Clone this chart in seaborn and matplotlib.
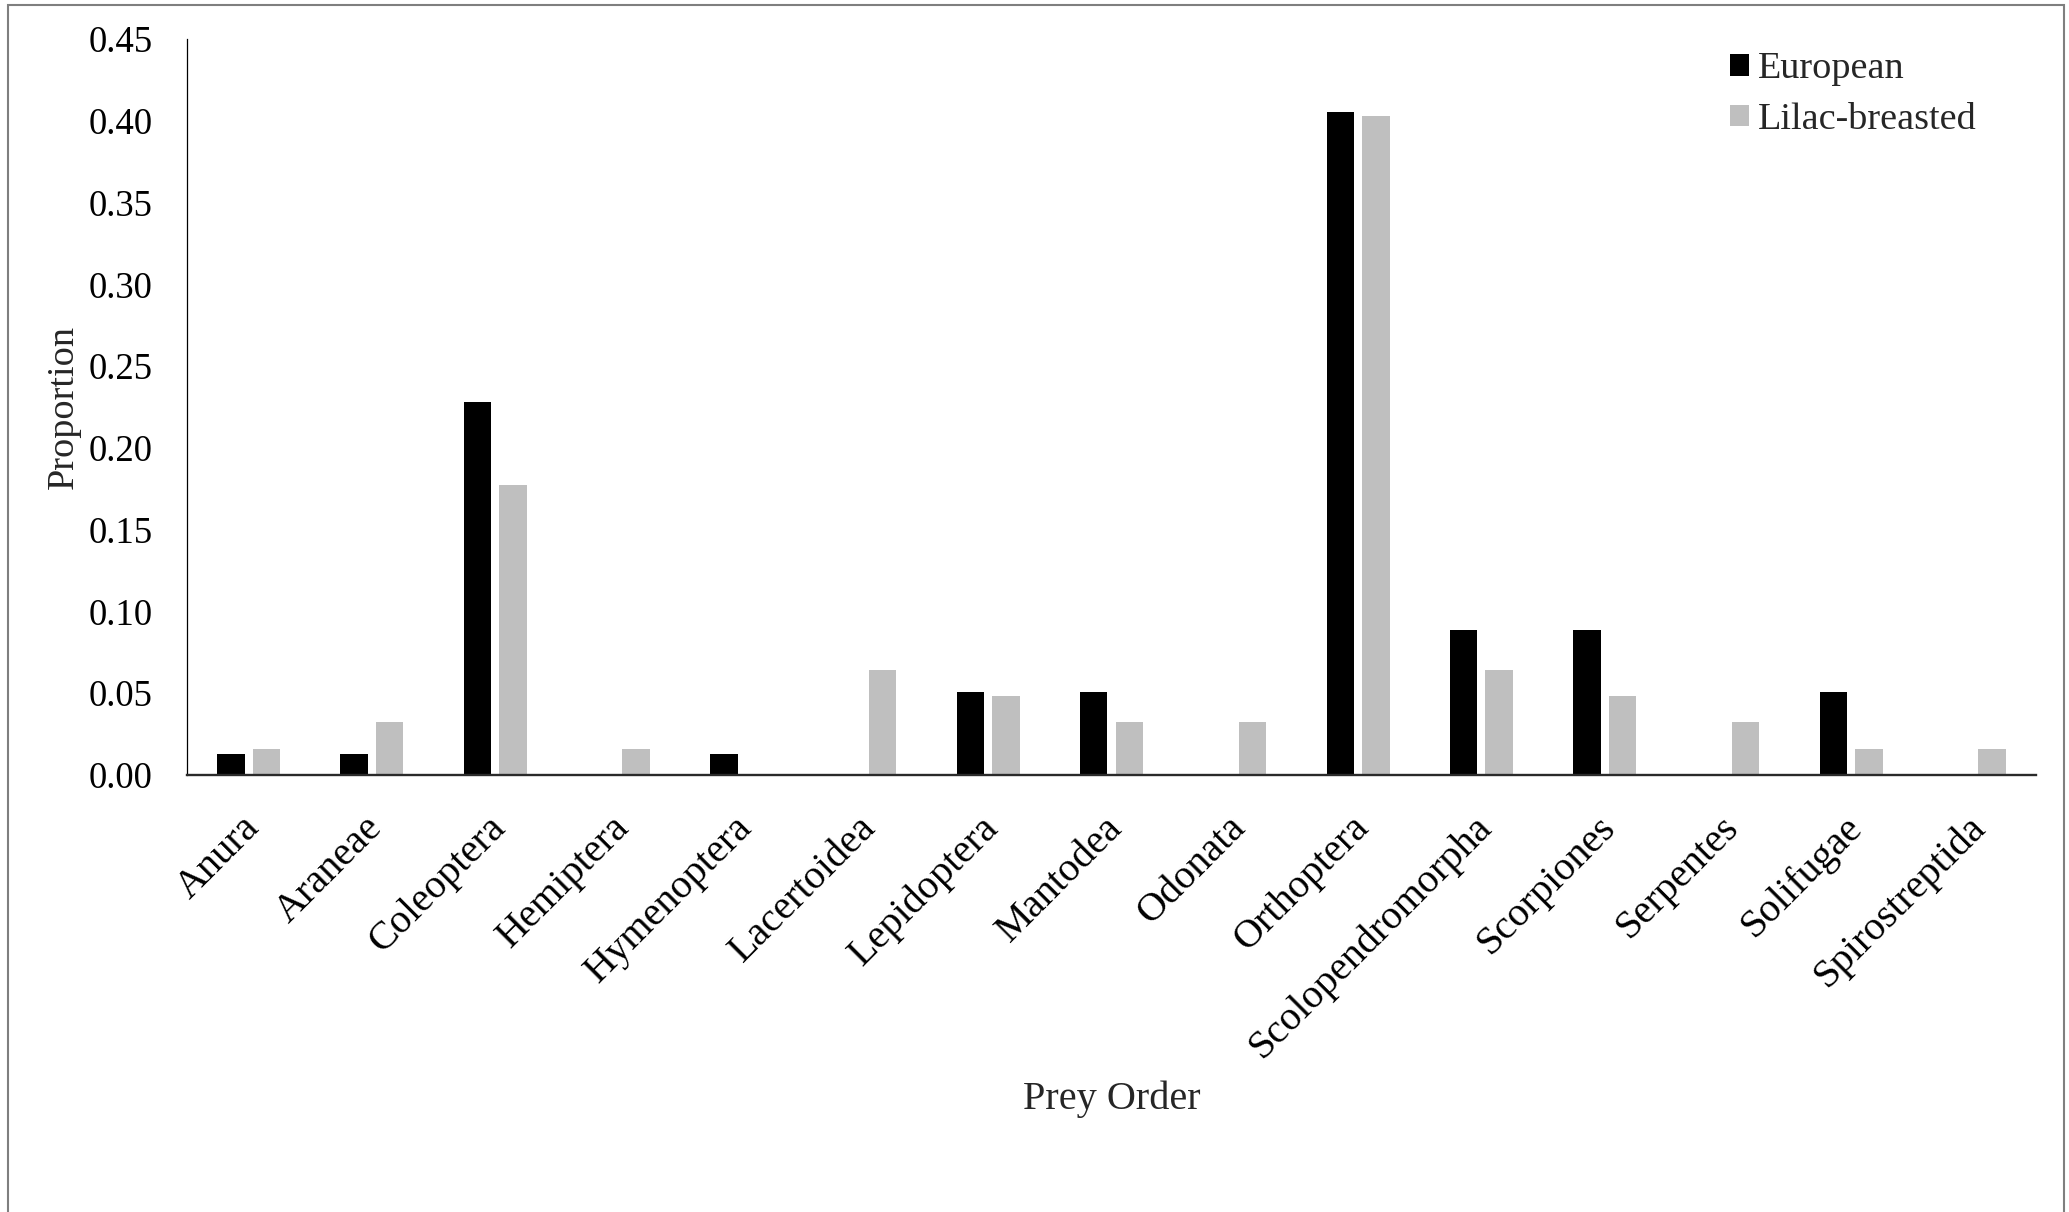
import matplotlib
matplotlib.use("Agg")
import matplotlib.pyplot as plt
import matplotlib.transforms as mtransforms
from matplotlib.patches import Rectangle
import pandas as pd
import seaborn as sns

# Diet composition of two roller species by prey order
prey_orders = [
    "Anura", "Araneae", "Coleoptera", "Hemiptera", "Hymenoptera",
    "Lacertoidea", "Lepidoptera", "Mantodea", "Odonata", "Orthoptera",
    "Scolopendromorpha", "Scorpiones", "Serpentes", "Solifugae", "Spirostreptida",
]
european = [0.0127, 0.0127, 0.2278, 0.0, 0.0127, 0.0, 0.0506, 0.0506, 0.0,
            0.4051, 0.0886, 0.0886, 0.0, 0.0506, 0.0]
lilac_breasted = [0.0161, 0.0323, 0.1774, 0.0161, 0.0, 0.0645, 0.0484, 0.0323,
                  0.0323, 0.4032, 0.0645, 0.0484, 0.0323, 0.0161, 0.0161]
series_names = ["European", "Lilac-breasted"]
series_colors = ["#000000", "#BFBFBF"]
y_ticks = [0.00, 0.05, 0.10, 0.15, 0.20, 0.25, 0.30, 0.35, 0.40, 0.45]

df = pd.DataFrame({
    "Prey Order": prey_orders * 2,
    "Proportion": european + lilac_breasted,
    "Roller": [series_names[0]] * len(prey_orders) + [series_names[1]] * len(prey_orders),
})

sns.set_style("white")
plt.rcParams["font.family"] = ["Liberation Serif", "DejaVu Serif"]

W, H, DPI = 2069, 1212, 100
fig = plt.figure(figsize=(W / DPI, H / DPI), dpi=DPI)
fig.patch.set_facecolor("white")

ax_left, ax_right, ax_top, ax_bottom = 187, 2036, 39, 775
ax = fig.add_axes([ax_left / W, 1 - ax_bottom / H,
                   (ax_right - ax_left) / W, (ax_bottom - ax_top) / H])

sns.barplot(
    data=df, x="Prey Order", y="Proportion", hue="Roller",
    hue_order=series_names, palette=dict(zip(series_names, series_colors)),
    width=0.576, gap=0.226, saturation=1, errorbar=None,
    linewidth=0, ax=ax,
)

fs_y = 26.5
fs_x = 29
fs_leg = 27.5
ax.set_ylim(0, 0.45)
ax.set_xlim(-0.5, len(prey_orders) - 0.5)
ax.set_yticks(y_ticks)
ax.set_yticklabels([f"{t:.2f}" for t in y_ticks])
ax.tick_params(axis="y", length=0, pad=24.5, labelsize=fs_y, colors="black")
ax.tick_params(axis="x", length=0, pad=34, labelsize=fs_x, colors="black")

shift = mtransforms.ScaledTranslation(5 / DPI, 0, fig.dpi_scale_trans)
for lbl in ax.get_xticklabels():
    lbl.set_rotation(45)
    lbl.set_rotation_mode("anchor")
    lbl.set_ha("right")
    lbl.set_va("center")
    lbl.set_transform(lbl.get_transform() + shift)

ax.set_ylabel("Proportion", fontsize=27.5, va="center")
ax.yaxis.set_label_coords((64 - ax_left) / (ax_right - ax_left), 0.5)
ax.set_xlabel("Prey Order", fontsize=fs_x, va="center")
ax.xaxis.set_label_coords(0.5, (ax_bottom - 1099) / (ax_bottom - ax_top))

for side in ("top", "right"):
    ax.spines[side].set_visible(False)
ax.spines["left"].set_color("black")
ax.spines["left"].set_linewidth(0.9)
ax.spines["bottom"].set_color("#2a2a2a")
ax.spines["bottom"].set_linewidth(1.7)
ax.spines["bottom"].set_zorder(5)

handles, labels = ax.get_legend_handles_labels()
ax.legend(
    handles, labels, loc="upper left",
    bbox_to_anchor=(1730 / W, 1 - 52 / H), bbox_transform=fig.transFigure,
    frameon=False, borderpad=0, borderaxespad=0, fontsize=fs_leg,
    handlelength=0.5, handleheight=0.5, handletextpad=0.24, labelspacing=0.42,
)

# Chart-area frame
fig.add_artist(Rectangle((8 / W, -0.01), (2064 - 8) / W, 1.01 - 5 / H,
                         transform=fig.transFigure, fill=False,
                         edgecolor="#7f7f7f", linewidth=1.5))

fig.savefig("out.png", dpi=DPI, facecolor="white")
